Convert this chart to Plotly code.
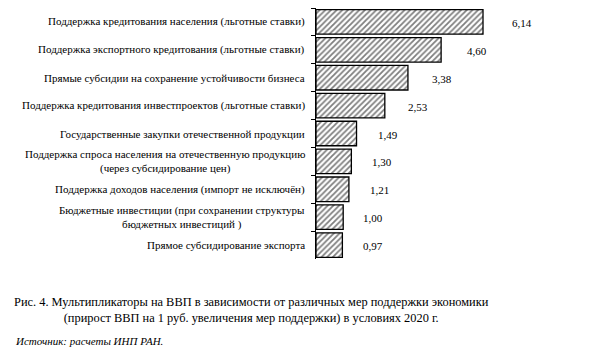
import plotly.graph_objects as go

categories = [
    "Поддержка кредитования населения (льготные ставки)",
    "Поддержка экспортного кредитования (льготные ставки)",
    "Прямые субсидии на сохранение устойчивости бизнеса",
    "Поддержка кредитования инвестпроектов (льготные ставки)",
    "Государственные закупки отечественной продукции",
    "Поддержка спроса населения на отечественную продукцию<br>(через субсидирование цен)",
    "Поддержка доходов населения (импорт не исключён)",
    "Бюджетные инвестиции (при сохранении структуры<br>бюджетных инвестиций )",
    "Прямое субсидирование экспорта",
]
values = [6.14, 4.60, 3.38, 2.53, 1.49, 1.30, 1.21, 1.00, 0.97]

caption = ("Рис. 4. Мультипликаторы на ВВП в зависимости от различных мер поддержки экономики<br>"
           "(прирост ВВП на 1 руб. увеличения мер поддержки) в условиях 2020 г.")
source = "<i>Источник: расчеты ИНП РАН.</i>"

FONT = "Liberation Serif"

# page body has an 8px margin; figure sized to fit the 595x356 window
OFF = 8
W, H = 595 - 2 * OFF, 356 - 2 * OFF
L, R, T, B = 316 - OFF, 12, 0, H - (259 - OFF)
PW, PH = W - L - R, H - T - B

fig = go.Figure()
fig.add_trace(go.Bar(
    x=values, y=categories, orientation="h",
    marker=dict(color="white",
                line=dict(color="black", width=1.3),
                pattern=dict(shape="/", fgcolor="black", bgcolor="white",
                             size=4, solidity=0.45)),
    width=0.88,
    hoverinfo="skip",
))

annotations = []
for c in categories:
    annotations.append(dict(
        x=0, xref="paper", xanchor="right", xshift=-9,
        y=c, yref="y", yanchor="middle",
        text=c, showarrow=False, align="center",
        font=dict(family=FONT, size=11, color="black"),
    ))
for c, v in zip(categories, values):
    annotations.append(dict(
        x=v * 1.06 + 1.05, xref="x", xanchor="center",
        y=c, yref="y", yanchor="middle", yshift=-1,
        text=f"{v:.2f}".replace(".", ","), showarrow=False,
        font=dict(family=FONT, size=11, color="black"),
    ))
annotations.append(dict(
    x=(251 - OFF - L) / PW, xref="paper", xanchor="center",
    y=(H - B - (310 - OFF)) / PH, yref="paper", yanchor="middle",
    text=caption, showarrow=False, align="center",
    font=dict(family=FONT, size=12.4, color="black"),
))
annotations.append(dict(
    x=(13 - OFF - L) / PW, xref="paper", xanchor="left",
    y=(H - B - (341 - OFF)) / PH, yref="paper", yanchor="middle",
    text=source, showarrow=False, align="left",
    font=dict(family=FONT, size=11, color="black"),
))

fig.update_layout(
    width=W, height=H,
    margin=dict(l=L, r=R, t=T, b=B, pad=0, autoexpand=False),
    paper_bgcolor="white", plot_bgcolor="white",
    font=dict(family=FONT, color="black"),
    showlegend=False,
    bargap=0.12,
    xaxis=dict(range=[0, PW / 27.2], visible=False, fixedrange=True),
    yaxis=dict(autorange="reversed", showticklabels=False,
               showline=True, linecolor="black", linewidth=1,
               ticks="outside", ticklen=4, tickcolor="black", tickwidth=1,
               tickson="boundaries", showgrid=False, fixedrange=True),
    annotations=annotations,
)

fig.write_html("out.html")
